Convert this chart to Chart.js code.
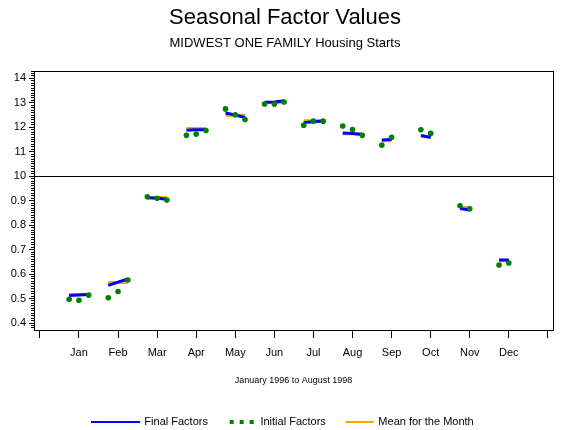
<!DOCTYPE html>
<html>
<head>
<meta charset="utf-8">
<script src="https://cdn.jsdelivr.net/npm/chart.js@4"></script>
<style>
  html, body { margin: 0; padding: 0; background: #fff; }
</style>
</head>
<body>
<canvas id="seasonalChart" width="570" height="430"></canvas>
<script>
const months = ['Jan', 'Feb', 'Mar', 'Apr', 'May', 'Jun', 'Jul', 'Aug', 'Sep', 'Oct', 'Nov', 'Dec'];
// 1996, 1997, 1998 sit a little left / on / right of the month tick
const yearOffsets = [-0.25, 0, 0.25];

const finalFactors = [
  [0.512, 0.514, 0.516],
  [0.554, 0.567, 0.580],
  [0.912, 0.910, 0.906],
  [1.188, 1.190, 1.190],
  [1.258, 1.250, 1.240],
  [1.302, 1.303, 1.308],
  [1.219, 1.223, 1.226],
  [1.177, 1.175, 1.170],
  [1.148, 1.150],
  [1.166, 1.158],
  [0.868, 0.862],
  [0.657, 0.657]
];
const initialFactors = [
  [0.497, 0.493, 0.514],
  [0.503, 0.529, 0.576],
  [0.916, 0.910, 0.903],
  [1.167, 1.172, 1.187],
  [1.275, 1.251, 1.232],
  [1.295, 1.295, 1.303],
  [1.208, 1.225, 1.225],
  [1.205, 1.191, 1.167],
  [1.127, 1.159],
  [1.190, 1.175],
  [0.879, 0.867],
  [0.637, 0.645]
];
const monthMeans = [0.516, 0.566, 0.913, 1.195, 1.249, 1.301, 1.227, 1.174, 1.145, 1.162, 0.872, 0.654];

const xTickValues = [0, 1, 2, 3, 4, 5, 6, 7, 8, 9, 10, 11, 12, 13];
const yTickValues = [0.4, 0.5, 0.6, 0.7, 0.8, 0.9, 1.0, 1.1, 1.2, 1.3, 1.4];
const yTickLabels = ['0.4', '0.5', '0.6', '0.7', '0.8', '0.9', '10', '11', '12', '13', '14'];

const BLUE = '#0000ff';
const GREEN = '#008000';
const ORANGE = '#ffa500';
const X_MIN = -0.15, X_MAX = 13.13;
const Y_MIN = 0.3714, Y_MAX = 1.430;

Chart.defaults.font.family = "'Liberation Sans', Arial, sans-serif";
Chart.defaults.color = '#000';

function monthPoints(series) {
  const pts = [];
  series.forEach((vals, m) => {
    vals.forEach((v, k) => pts.push({ x: m + 1 + yearOffsets[k], y: v }));
    pts.push({ x: m + 1.5, y: null });
  });
  return pts;
}

const meanPoints = [];
monthMeans.forEach((v, m) => {
  const n = finalFactors[m].length;
  meanPoints.push({ x: m + 1 + yearOffsets[0], y: v });
  meanPoints.push({ x: m + 1 + yearOffsets[n - 1], y: v });
  meanPoints.push({ x: m + 1.5, y: null });
});

// small canvases used as legend markers
function legendMark(width, draw) {
  const c = document.createElement('canvas');
  c.width = width;
  c.height = 6;
  draw(c.getContext('2d'));
  return c;
}
const blueMark = legendMark(53, g => { g.fillStyle = BLUE; g.fillRect(0, 2, 49, 2); });
const dotsMark = legendMark(46, g => { g.fillStyle = GREEN; [19, 29, 39].forEach(x => g.fillRect(x, 1, 4, 4)); });
const orangeMark = legendMark(44, g => { g.fillStyle = ORANGE; g.fillRect(16, 2, 28, 2); });
const legendMarks = [blueMark, dotsMark, orangeMark];

const frame = {
  id: 'frame',
  beforeDatasetsDraw(chart) {
    const a = chart.chartArea;
    const g = chart.ctx;
    g.save();
    g.strokeStyle = '#000';
    g.lineWidth = 1;
    g.strokeRect(Math.round(a.left) + 0.5, Math.round(a.top) + 0.5, Math.round(a.right - a.left), Math.round(a.bottom - a.top));
    g.restore();
  }
};

new Chart(document.getElementById('seasonalChart'), {
  type: 'line',
  data: {
    datasets: [
      {
        label: 'Final Factors',
        data: monthPoints(finalFactors),
        borderColor: BLUE,
        borderWidth: 3,
        pointRadius: 0,
        tension: 0,
        spanGaps: false,
        order: 1
      },
      {
        label: 'Initial Factors',
        data: monthPoints(initialFactors),
        showLine: false,
        pointStyle: 'circle',
        pointRadius: 2.8,
        pointBorderWidth: 0,
        pointBackgroundColor: GREEN,
        order: 0
      },
      {
        label: 'Mean for the Month',
        data: meanPoints,
        borderColor: ORANGE,
        borderWidth: 3,
        pointRadius: 0,
        tension: 0,
        spanGaps: false,
        order: 2
      }
    ]
  },
  options: {
    responsive: false,
    animation: false,
    devicePixelRatio: 1,
    layout: { padding: { left: 0, right: 0, top: 0, bottom: -7.5 } },
    plugins: {
      tooltip: { enabled: false },
      title: {
        display: true,
        text: 'Seasonal Factor Values',
        color: '#000',
        font: { size: 22, weight: 'normal' },
        padding: { top: 4.8, bottom: 0 }
      },
      subtitle: {
        display: true,
        text: 'MIDWEST ONE FAMILY Housing Starts',
        color: '#000',
        font: { size: 13, weight: 'normal' },
        padding: { top: 4, bottom: 20.2 }
      },
      legend: {
        position: 'bottom',
        labels: {
          usePointStyle: true,
          pointStyleWidth: 42.6,
          padding: 4.4,
          color: '#000',
          font: { size: 11 },
          generateLabels: chart => chart.data.datasets.map((ds, i) => ({
            text: ds.label,
            pointStyle: legendMarks[i],
            datasetIndex: i,
            hidden: false,
            lineWidth: 0,
            fontColor: '#000'
          }))
        }
      }
    },
    scales: {
      x: {
        type: 'linear',
        min: X_MIN,
        max: X_MAX,
        afterBuildTicks: s => { s.ticks = xTickValues.map(v => ({ value: v })); },
        afterFit: s => { s.height = 82.1; },
        ticks: {
          autoSkip: false,
          maxRotation: 0,
          padding: 8,
          color: '#000',
          font: { size: 11 },
          callback: v => months[v - 1] || ''
        },
        grid: { drawOnChartArea: false, tickLength: 8, tickColor: '#000' },
        border: { color: '#000' },
        title: {
          display: true,
          text: 'January 1996 to August 1998',
          color: '#000',
          font: { size: 9 },
          padding: { top: 0, bottom: 25.7 }
        }
      },
      y: {
        type: 'linear',
        min: Y_MIN,
        max: Y_MAX,
        afterBuildTicks: s => { s.ticks = yTickValues.map(v => ({ value: v })); },
        afterFit: s => { s.width = 34; },
        ticks: {
          autoSkip: false,
          padding: 3,
          color: '#000',
          font: { size: 11 },
          callback: (v, i) => yTickLabels[i]
        },
        grid: {
          color: c => (c.tick && c.tick.value === 1.0 ? '#000' : 'rgba(0,0,0,0)'),
          tickColor: '#000',
          tickLength: 5
        },
        border: { color: '#000' }
      },
      yMinor: {
        axis: 'y',
        type: 'linear',
        min: Y_MIN,
        max: Y_MAX,
        position: { x: X_MIN },
        afterBuildTicks: s => {
          const t = [];
          for (let i = 38; i <= 143; i++) t.push({ value: i / 100 });
          s.ticks = t;
        },
        ticks: { display: false },
        grid: { drawOnChartArea: false, tickLength: 3, tickColor: '#000' },
        border: { display: false }
      },
      // empty right-hand axis, only to keep the plot clear of the right edge
      yRight: {
        axis: 'y',
        type: 'linear',
        position: 'right',
        min: Y_MIN,
        max: Y_MAX,
        afterFit: s => { s.width = 17; },
        ticks: { display: false },
        grid: { display: false, drawTicks: false },
        border: { display: false }
      }
    }
  },
  plugins: [frame]
});
</script>
</body>
</html>
